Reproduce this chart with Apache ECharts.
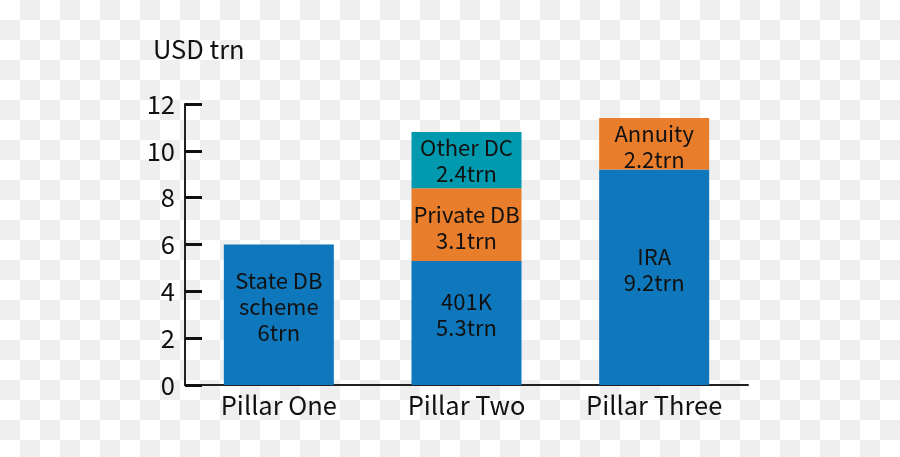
<!DOCTYPE html>
<html lang="en">
<head>
<meta charset="utf-8" />
<title>Pillars</title>
<script src="https://cdn.jsdelivr.net/npm/echarts@6/dist/echarts.min.js"></script>
<style>
  html, body { margin: 0; padding: 0; }
  body {
    width: 900px; height: 457px;
    background: repeating-conic-gradient(#efefef 0 25%, #fff 0 50%) 0 0 / 40px 40px;
  }
  #chart { width: 900px; height: 457px; }
</style>
</head>
<body>
<div id="chart"></div>
<script type="text/javascript">
// categories and values (USD trn)
var pillars = ['Pillar One', 'Pillar Two', 'Pillar Three'];
var baseValues = [6, 5.3, 9.2];
var baseNames = ['State DB\nscheme\n6trn', '401K\n5.3trn', 'IRA\n9.2trn'];
var midValues = ['-', 3.1, 2.2];
var midNames = ['', 'Private DB\n3.1trn', 'Annuity\n2.2trn'];
var topValues = ['-', 2.4, '-'];
var topNames = ['', 'Other DC\n2.4trn', ''];
var yTicks = [0, 2, 4, 6, 8, 10, 12];

var FONT = '"Noto Sans CJK SC", "Noto Sans", sans-serif';
var chart = echarts.init(document.getElementById('chart'));

function makeData(vals, names) {
    return vals.map(function (v, i) { return { value: v, name: names[i] }; });
}

var labelStyle = {
    show: true,
    position: 'inside',
    formatter: function (p) { return p.data.name; },
    color: '#111',
    fontFamily: FONT,
    fontSize: 22,
    lineHeight: 26
};

option = {
    backgroundColor: 'transparent',
    animation: false,
    title: {
        text: 'USD trn',
        left: 148,
        top: 32,
        textStyle: { fontFamily: FONT, fontSize: 25.5, fontWeight: 'normal', color: '#111' }
    },
    grid: { left: 185, right: 152, top: 104, bottom: 72 },
    xAxis: {
        type: 'category',
        data: pillars,
        axisLine: { lineStyle: { color: '#222', width: 2 } },
        axisTick: { inside: true, length: 13, lineStyle: { color: '#222', width: 2 } },
        axisLabel: { margin: 8, color: '#111', fontFamily: FONT, fontSize: 25.5 }
    },
    yAxis: {
        type: 'value',
        min: yTicks[0],
        max: yTicks[yTicks.length - 1],
        interval: yTicks[1] - yTicks[0],
        splitLine: { show: false },
        axisLine: { show: true, lineStyle: { color: '#222', width: 2 } },
        axisTick: { show: true, inside: true, length: 17, lineStyle: { color: '#111', width: 3 } },
        axisLabel: { margin: 10, color: '#111', fontFamily: FONT, fontSize: 25.5 }
    },
    series: [
        {
            type: 'bar', stack: 'total', barWidth: 110,
            itemStyle: { color: '#0f77bb' },
            label: Object.assign({}, labelStyle, { offset: [0, -8] }),
            data: makeData(baseValues, baseNames)
        },
        {
            type: 'bar', stack: 'total', barWidth: 110,
            itemStyle: { color: '#e87d2b' },
            label: Object.assign({}, labelStyle, { offset: [0, 3] }),
            data: makeData(midValues, midNames)
        },
        {
            type: 'bar', stack: 'total', barWidth: 110,
            itemStyle: { color: '#0099ad' },
            label: labelStyle,
            data: makeData(topValues, topNames)
        }
    ]
};
chart.setOption(option);
</script>
</body>
</html>
